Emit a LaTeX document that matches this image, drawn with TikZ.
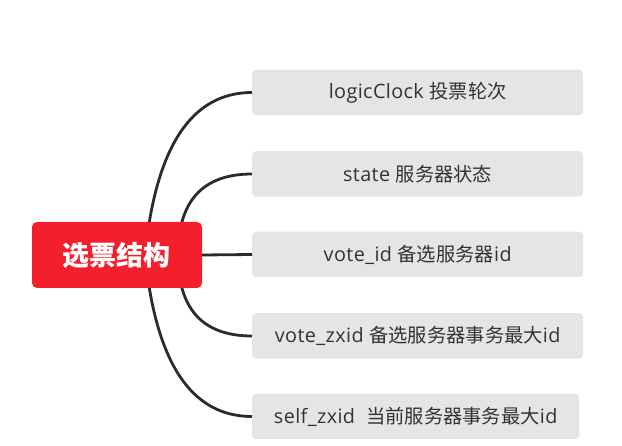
\documentclass[tikz,border=0pt]{standalone}
\usepackage{fontspec}
\setmainfont{Open Sans}[LetterSpace=2]
\newfontfamily\cjk{Noto Sans CJK SC}
\newcommand{\zh}[1]{{\cjk\fontsize{19.3}{22}\selectfont #1}}
\begin{document}
\begin{tikzpicture}[x=1pt,y=-1pt,
  leaf/.style={fill=leafgray,rounded corners=4pt,minimum height=45.5pt,text=txt,font=\fontsize{19.8}{22}\selectfont,inner sep=0pt,anchor=west},
  rootbox/.style={fill=rootred,rounded corners=5pt,minimum width=170pt,minimum height=66pt,text=white,font=\cjk\fontsize{27}{30}\selectfont\bfseries,inner sep=0pt},
  conn/.style={draw=linec,line width=2.8pt}]
\definecolor{leafgray}{HTML}{E5E5E5}
\definecolor{rootred}{HTML}{F41F2C}
\definecolor{txt}{HTML}{333333}
\definecolor{linec}{HTML}{2B2B2B}
\useasboundingbox (0,0) rectangle (622,446);
\coordinate (s1) at (145,255);
\coordinate (s2) at (178,255);
\coordinate (s4) at (178,255);
\coordinate (s5) at (145,255);
\node[leaf,minimum width=331pt] (b1) at (252,92.5) {logicClock \zh{投票轮次}};
\node[leaf,minimum width=331pt] (b2) at (252,174) {state \zh{服务器状态}};
\node[leaf,minimum width=331pt] (b3) at (252,254.5) {vote\_id \zh{备选服务器}id};
\node[leaf,minimum width=331pt] (b4) at (252,336) {vote\_zxid \zh{备选服务器事务最大}id};
\node[leaf,minimum width=327pt] (b5) at (252,416.5) {self\_zxid\ \ \zh{当前服务器事务最大}id};
\draw[conn] (s1) .. controls (155.7,147) and (191.3,92.5) .. (b1.west);
\draw[conn] (s2) .. controls (178,201) and (202.7,174) .. (b2.west);
\draw[conn] (s4) .. controls (178,309) and (202.7,336) .. (b4.west);
\draw[conn] (s5) .. controls (155.7,363) and (191.3,416.5) .. (b5.west);
\node[rootbox] (root) at (117,255) {选票结构};
\draw[conn] (root.east) -- (b3.west);
\end{tikzpicture}
\end{document}
